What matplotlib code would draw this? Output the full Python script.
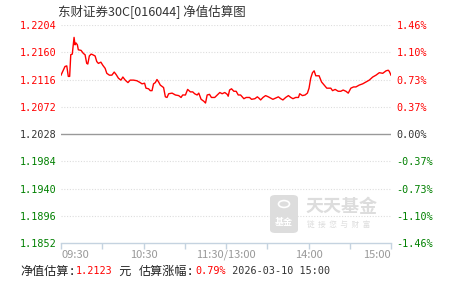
import matplotlib
matplotlib.use('Agg')
import matplotlib.pyplot as plt
from matplotlib.patches import FancyBboxPatch, Circle

plt.rcParams['font.family'] = ['Noto Sans CJK SC', 'DejaVu Sans']

# estimated NAV through the trading day (minutes after 09:30, lunch break removed)
minutes = [0, 2.9, 4.2, 5.3, 6.3, 7.1, 8.2, 9.5, 10.2, 10.9, 11.9, 12.6, 14.6, 16.3, 17.5,
           18.7, 19.5, 20.6, 21.9, 23.1, 24.8, 26.0, 27.2, 29.0, 30.4, 32.1, 33.3, 35.2,
           37.0, 38.7, 40.1, 41.8, 43.6, 45.0, 46.7, 48.7, 50.3, 52.7, 55.2, 57.6, 58.9,
           60.8, 61.8, 63.7, 64.9, 66.2, 67.3, 68.6, 69.8, 71.0, 72.2, 74.6, 75.9, 77.1,
           78.3, 80.8, 83.2, 85.6, 87.3, 88.5, 90.5, 92.1, 94.1, 95.8, 97.2, 99.0, 100.2,
           101.9, 103.8, 105.1, 106.3, 108.0, 109.4, 111.8, 113.6, 115.5, 117.2, 119.1,
           120.9, 121.6, 122.6, 124.0, 125.7, 127.4, 128.9, 130.6, 131.8, 133.0, 134.7,
           137.1, 138.6, 141.0, 142.8, 143.9, 145.2, 146.9, 148.8, 150.8, 152.5, 154.1,
           156.1, 158.1, 159.8, 161.4, 163.4, 165.4, 167.1, 168.7, 170.7, 172.7, 173.6,
           175.6, 177.5, 179.2, 180.4, 181.6, 182.9, 184.1, 185.3, 187.7, 189.5, 191.4,
           193.3, 196.2, 197.5, 199.4, 201.6, 203.5, 205.2, 207.2, 208.9, 210.8, 212.8,
           214.5, 216.9, 219.4, 221.8, 224.2, 226.7, 229.1, 231.5, 234.0, 236.4, 238.0,
           238.8, 240]
nav = [1.2123, 1.2137, 1.2138, 1.2121, 1.2121, 1.2156, 1.2157, 1.2184, 1.2172, 1.2175,
       1.2172, 1.2164, 1.2163, 1.2158, 1.2156, 1.2142, 1.2141, 1.2154, 1.2157, 1.2156,
       1.2154, 1.2145, 1.2142, 1.2144, 1.2139, 1.2134, 1.2126, 1.2123, 1.2123, 1.2128,
       1.2124, 1.2118, 1.2115, 1.2120, 1.2115, 1.2111, 1.2115, 1.2115, 1.2114, 1.2111,
       1.2109, 1.2110, 1.2102, 1.2101, 1.2098, 1.2098, 1.2109, 1.2111, 1.2116, 1.2112,
       1.2107, 1.2103, 1.2088, 1.2087, 1.2093, 1.2094, 1.2091, 1.2090, 1.2087, 1.2091,
       1.2091, 1.2100, 1.2096, 1.2096, 1.2093, 1.2091, 1.2094, 1.2084, 1.2081, 1.2078,
       1.2091, 1.2092, 1.2087, 1.2087, 1.2091, 1.2095, 1.2093, 1.2095, 1.2092, 1.2089,
       1.2099, 1.2101, 1.2097, 1.2097, 1.2091, 1.2091, 1.2088, 1.2085, 1.2087, 1.2087,
       1.2084, 1.2085, 1.2088, 1.2086, 1.2083, 1.2087, 1.2090, 1.2088, 1.2086, 1.2084,
       1.2086, 1.2088, 1.2085, 1.2083, 1.2087, 1.2090, 1.2087, 1.2085, 1.2087, 1.2087,
       1.2093, 1.2090, 1.2091, 1.2094, 1.2102, 1.2118, 1.2127, 1.2130, 1.2122, 1.2122,
       1.2112, 1.2107, 1.2102, 1.2102, 1.2098, 1.2100, 1.2097, 1.2097, 1.2099, 1.2097,
       1.2094, 1.2102, 1.2104, 1.2104, 1.2107, 1.2109, 1.2112, 1.2115, 1.2120, 1.2123,
       1.2127, 1.2126, 1.2130, 1.2131, 1.2129, 1.2123]

base = 1.2028
y_levels = [1.2204, 1.2160, 1.2116, 1.2072, 1.2028, 1.1984, 1.1940, 1.1896, 1.1852]
pct_labels = ['1.46%', '1.10%', '0.73%', '0.37%', '0.00%', '-0.37%', '-0.73%', '-1.10%', '-1.46%']
x_ticks = [0, 30, 60, 90, 120, 150, 180, 210, 240]
x_labels = ['09:30', '', '10:30', '', '11:30/13:00', '', '14:00', '', '15:00']

title = '东财证券30C[016044] 净值估算图'
last_nav = '1.2123'
last_pct = '0.79%'
stamp = '2026-03-10 15:00'

MONO = ['DejaVu Sans Mono', 'Noto Sans CJK SC']

fig = plt.figure(figsize=(4.51, 2.81), dpi=100)
ax = fig.add_axes([61 / 451, 1 - 243 / 281, 330 / 451, 218 / 281])

for lv in y_levels:
    if lv == base:
        ax.axhline(lv, color='#999999', lw=1, zorder=1)
    elif lv != y_levels[-1]:
        ax.axhline(lv, color='#dddddd', lw=0.8, ls=(0, (1, 1.5)), zorder=1)

ax.plot(minutes, nav, color='#ff0000', lw=1, zorder=3)

ax.set_xlim(0, 240)
ax.set_ylim(y_levels[-1], y_levels[0])
for s in ['top', 'left', 'right']:
    ax.spines[s].set_visible(False)
ax.spines['bottom'].set_color('#c5d3e0')
ax.spines['bottom'].set_linewidth(1)

ax.set_xticks(x_ticks)
ax.set_xticklabels(x_labels)
ax.tick_params(axis='x', direction='out', length=4, width=1, color='#c5d3e0',
               labelcolor='#999999', labelsize=8, pad=1)
xl = ax.get_xticklabels()
xl[0].set_ha('left')
xl[-1].set_ha('right')

def level_color(lv):
    if lv > base:
        return '#ff0000'
    if lv < base:
        return '#008000'
    return '#333333'

ax.set_yticks(y_levels)
ax.set_yticklabels(['%.4f' % lv for lv in y_levels], family='DejaVu Sans Mono', fontsize=7.3)
ax.tick_params(axis='y', length=0, pad=3.5)
for lab, lv in zip(ax.get_yticklabels(), y_levels):
    lab.set_color(level_color(lv))

ax2 = ax.twinx()
ax2.set_ylim(ax.get_ylim())
for s in ['top', 'left', 'right', 'bottom']:
    ax2.spines[s].set_visible(False)
ax2.set_yticks(y_levels)
ax2.set_yticklabels(pct_labels, family='DejaVu Sans Mono', fontsize=7.3)
ax2.tick_params(axis='y', length=0, pad=4)
for lab, lv in zip(ax2.get_yticklabels(), y_levels):
    lab.set_color(level_color(lv))

fig.text(58 / 451, 1 - 12 / 281, title, fontsize=9, color='#333333', va='center', ha='left')

# watermark
wm = '#dddddd'
fig.patches.append(FancyBboxPatch((270 / 451, 1 - 233 / 281), 28 / 451, 38 / 281,
                                  boxstyle='round,pad=0,rounding_size=0.012',
                                  transform=fig.transFigure, fc=wm, ec='none', zorder=2))
fig.patches.append(Circle((284 / 451, 1 - 204 / 281), 5.5 / 451, transform=fig.transFigure,
                          fc='none', ec='white', lw=1.2, zorder=3))
fig.text(284 / 451, 1 - 222 / 281, '基金', fontsize=6.5, color='white', ha='center',
         va='center', weight='bold', zorder=3)
fig.text(306 / 451, 1 - 207 / 281, '天天基金', fontsize=13, color=wm, ha='left', va='center',
         weight='bold')
fig.text(307 / 451, 1 - 225 / 281, '链  接  您  与  财  富', fontsize=5.5, color=wm, ha='left',
         va='center')

# bottom line of mixed colour text
parts = [('净值估算:', '#222222', 8.7), (last_nav, '#ff0000', 7.3), (' 元 ', '#222222', 8.7),
         ('估算涨幅:', '#222222', 8.7), (last_pct, '#ff0000', 7.3),
         (' ' + stamp, '#333333', 7.3)]
prev = fig.text(20 / 451, 1 - 271 / 281, parts[0][0], fontsize=parts[0][2], color=parts[0][1],
                va='center', ha='left', family=MONO)
for txt, col, size in parts[1:]:
    prev = ax.annotate(txt, xy=(1, 0.5), xycoords=prev, va='center', ha='left',
                       fontsize=size, color=col, family=MONO, annotation_clip=False)

fig.savefig('out.png', dpi=100)
